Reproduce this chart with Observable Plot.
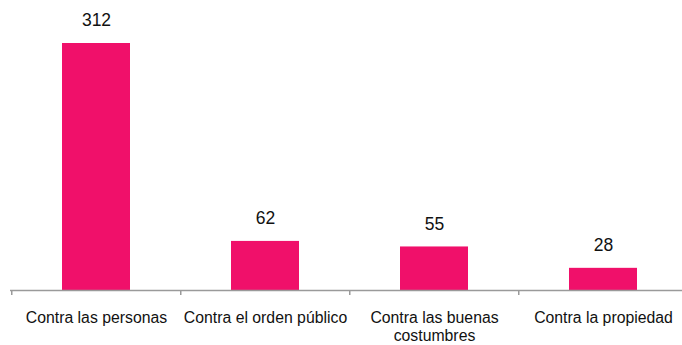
<!DOCTYPE html>
<html>
<head>
<meta charset="utf-8">
<script src="https://cdn.jsdelivr.net/npm/d3@7"></script>
<script src="https://cdn.jsdelivr.net/npm/@observablehq/plot@0.6"></script>
<style>
  html, body { margin: 0; padding: 0; background: #ffffff; }
  #chart svg { display: block; }
</style>
</head>
<body>
<div id="chart"></div>
<script>
const categories = ["Contra las personas", "Contra el orden público", "Contra las buenas costumbres", "Contra la propiedad"];
const tickLabels = ["Contra las personas", "Contra el orden público", "Contra las buenas\ncostumbres", "Contra la propiedad"];
const values = [312, 62, 55, 28];

const data = categories.map((c, i) => ({category: c, value: values[i]}));
const labelOf = new Map(categories.map((c, i) => [c, tickLabels[i]]));

const FONT = "'Liberation Sans', Arial, sans-serif";
const BAR = "#F0106A";

const chart = Plot.plot({
  width: 682,
  height: 345,
  marginTop: 43,
  marginBottom: 55,
  marginLeft: 10,
  marginRight: 0,
  style: {fontFamily: FONT, background: "transparent", color: "#000"},
  x: {domain: categories, range: [10, 688], paddingInner: 0.6, paddingOuter: 0.3, align: 0.5, label: null},
  y: {domain: [0, 312], axis: null},
  marks: [
    Plot.barY(data, {x: "category", y: "value", fill: BAR}),
    Plot.ruleY([0], {stroke: "#9a9a9a", strokeWidth: 1.5}),
    Plot.ruleX(categories, {x: d => d, dx: -84.75, y1: 0, y2: 0, insetBottom: -5, stroke: "#9a9a9a", strokeWidth: 1.5}),
    Plot.text(data, {x: "category", y: "value", text: d => String(d.value), dy: -23, lineAnchor: "middle", fontSize: 17.5, fill: "#111"}),
    Plot.axisX({tickSize: 0, tickPadding: 19, fontSize: 15.8, lineHeight: 1.17, tickFormat: d => labelOf.get(d), fill: "#111", label: null})
  ]
});
document.getElementById("chart").appendChild(chart);
</script>
</body>
</html>
